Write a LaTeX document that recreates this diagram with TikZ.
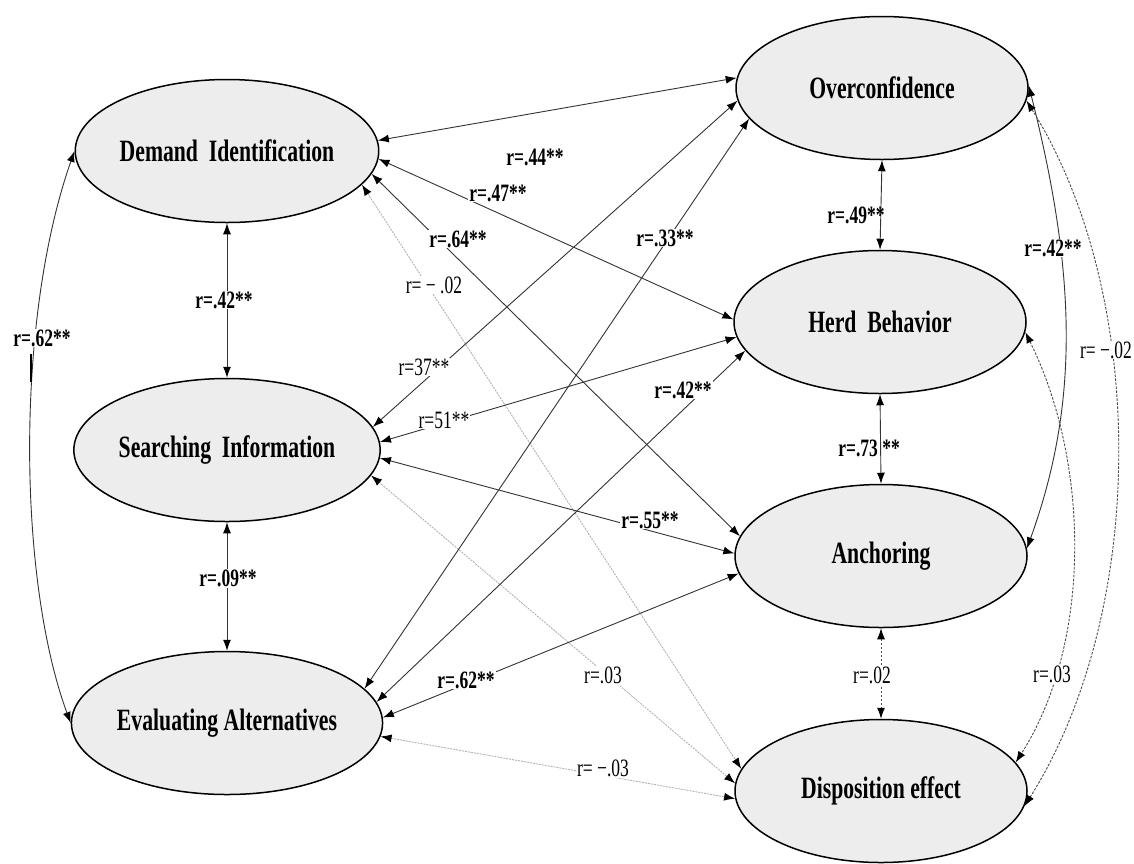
\documentclass[tikz,border=0pt]{standalone}
\usepackage{fontspec}
\setmainfont[FakeStretch=0.7]{Liberation Serif}
\usetikzlibrary{shapes.geometric,arrows.meta}
\begin{document}
\begin{tikzpicture}[x=1pt,y=-1pt,
  var/.style={ellipse, draw=black, line width=1.5pt, fill=black!7, minimum width=292, minimum height=143, inner sep=0pt, font=\fontsize{31}{36}\selectfont\bfseries},
  lab/.style={font=\fontsize{25}{28}\selectfont\bfseries, inner sep=1pt},
  labn/.style={font=\fontsize{25}{28}\selectfont, inner sep=1pt},
  wf/.style={fill=white},
  tip/.tip={Latex[length=11pt,width=8pt,color=black]},
  con/.style={draw=black!80, line width=0.9pt, tip-tip},
  ns/.style={draw=black!30, line width=0.9pt, dash pattern=on 2pt off 1pt, tip-tip},
  nsr/.style={draw=black!70, line width=0.9pt, dash pattern=on 2.5pt off 1.5pt, tip-tip}
]
\useasboundingbox (0,0) rectangle (1134,863);

% variables
\node[var] (dem) at (227,151) {Demand~~Identification};
\node[var] (sea) at (227,450) {Searching~~Information};
\node[var] (eva) at (227,723) {Evaluating Alternatives};
\node[var] (ovc) at (882,88) {Overconfidence};
\node[var] (hrd) at (880,322) {Herd~~Behavior};
\node[var] (anc) at (881,556) {Anchoring};
\node[var] (dsp) at (881,791) {Disposition effect};

% vertical connectors
\draw[con] (dem.south) -- (sea.north);
\draw[con] (sea.south) -- (eva.north);
\draw[con] (ovc.south) -- (hrd.north);
\draw[con] (hrd.south) -- (anc.north);
\draw[nsr] (anc.south) -- (dsp.north);

% side curves
\draw[con] (dem.west) .. controls (15,320) and (18,580) .. (eva.west);
\draw[con] (ovc.1) .. controls (1078,280) and (1078,407) .. (anc.3);
\draw[nsr] (ovc.-5) .. controls (1148,295) and (1148,610) .. (dsp.-6);
\draw[nsr] (hrd.-4) .. controls (1091,465) and (1091,645) .. (dsp.12);
\draw[line width=2.2pt] (31,354) -- (31,382);

% cross connectors
\draw[con] (dem.4) -- (ovc.176);
\draw[con] (dem.-3) -- (hrd.179);
\draw[con] (dem.-9) -- (anc.172);
\draw[ns] (dem.-14) -- (dsp.171);
\draw[con] (sea.9) -- (ovc.185);
\draw[con] (sea.3) -- (hrd.186);
\draw[con] (sea.-3) -- (anc.179);
\draw[ns] (sea.-10) -- (dsp.177);
\draw[con] (eva.14) -- (ovc.193);
\draw[con] (eva.8) -- (hrd.192);
\draw[con] (eva.2) -- (anc.187);
\draw[ns] (eva.-5) -- (dsp.183);

% labels
\node[lab] (l44) at (535,157) {r=.44**};
\node[lab,wf] (l47) at (498,193) {r=.47**};
\node[lab,wf] (l64) at (458,239) {r=.64**};
\node[labn,wf] (l02a) at (434,285) {r= − .02};
\node[lab,wf] (l42a) at (224,300) {r=.42**};
\node[lab,wf] (l62a) at (42,338) {r=.62**};
\node[labn,wf] (l37) at (424,367) {r=37**};
\node[labn,wf] (l51) at (444,420) {r=51**};
\node[lab,wf] (l09) at (228,578) {r=.09**};
\node[lab,wf] (l33) at (665,238) {r=.33**};
\node[lab] (l49) at (856,215) {r=.49**};
\node[lab,wf] (l42b) at (1053,248) {r=.42**};
\node[lab,wf] (l42c) at (683,390) {r=.42**};
\node[lab] (l73) at (869,448) {r=.73 **};
\node[labn,wf] (l02b) at (1106,350) {r= −.02};
\node[lab,wf] (l55) at (650,520) {r=.55**};
\node[lab,wf] (l62b) at (466,680) {r=.62**};
\node[labn,wf] (l03a) at (603,675) {r=.03};
\node[labn,wf] (l02c) at (872,675) {r=.02};
\node[labn,wf] (l03b) at (1052,674) {r=.03};
\node[labn,wf] (l03c) at (603,768) {r= −.03};
\end{tikzpicture}
\end{document}
